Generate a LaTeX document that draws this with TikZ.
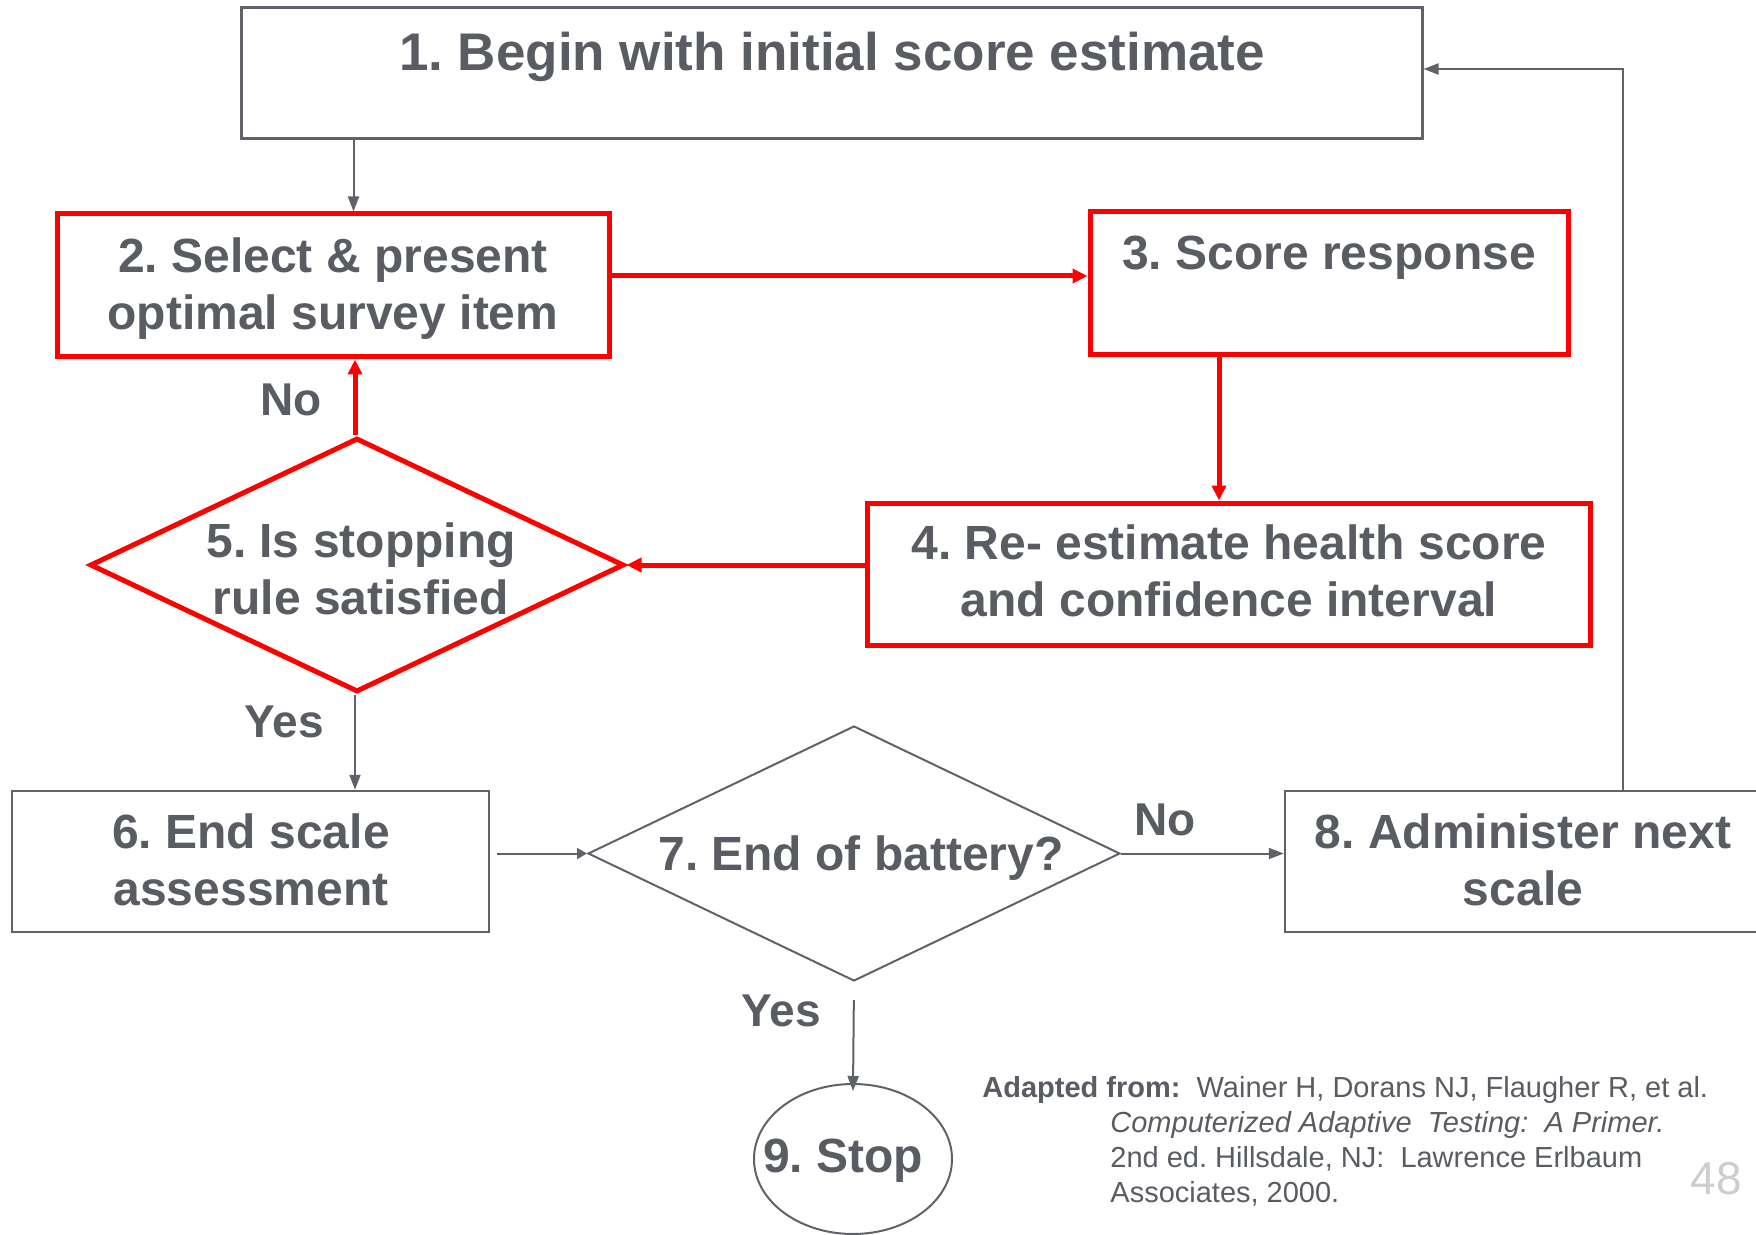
\documentclass[tikz,border=0pt]{standalone}
\usepackage{fontspec}
\setmainfont{Liberation Sans}
\frenchspacing
\usetikzlibrary{arrows.meta,shapes.geometric,calc}
\definecolor{tgray}{RGB}{89,92,99}
\definecolor{lgray}{RGB}{95,98,105}
\definecolor{pred}{RGB}{255,0,0}
\definecolor{pgnum}{RGB}{205,205,205}
\begin{document}
\begin{tikzpicture}[x=0.5pt,y=-0.5pt,
 graybox/.style={draw=lgray, line width=1.25pt, rectangle, inner sep=0pt},
 redbox/.style={draw=pred, line width=2.5pt, rectangle, inner sep=0pt},
 btxt/.style={text=tgray, font=\fontsize{24}{28.5}\selectfont\bfseries, align=center, inner sep=0pt},
 lbl/.style={text=tgray, font=\fontsize{23}{27}\selectfont\bfseries, inner sep=0pt},
 garrow/.style={draw=lgray, line width=1pt, -{Triangle[length=7.5pt,width=5.5pt]}},
 rarrow/.style={draw=pred, line width=2.5pt, -{Triangle[length=7.5pt,width=7pt]}},
 reftxt/.style={text=tgray, font=\fontsize{14.5}{17.5}\selectfont, inner sep=0pt, align=left},
]
\useasboundingbox (0,0) rectangle (1756,1235);

% boxes
\node[graybox, line width=1.5pt, minimum width=590.5pt, minimum height=65.5pt] (b1) at (831.5,73.5) {};
\node[redbox, minimum width=276pt, minimum height=71.5pt] (b2) at (333,285.5) {};
\node[redbox, minimum width=239pt, minimum height=71.5pt] (b3) at (1329,283.5) {};
\node[redbox, minimum width=361.5pt, minimum height=71pt] (b4) at (1228.5,574) {};
\node[draw=pred, line width=2.5pt, diamond, inner sep=0pt, minimum width=267pt, minimum height=127pt] (d5) at (357,565) {};
\node[graybox, minimum width=238.5pt, minimum height=70.5pt] (b6) at (250.5,861.5) {};
\node[draw=lgray, line width=1pt, diamond, inner sep=0pt, minimum width=266pt, minimum height=127.5pt] (d7) at (854,853.5) {};
\node[graybox, minimum width=238pt, minimum height=70.5pt] (b8) at (1523,861.5) {};
\node[draw=lgray, line width=1pt, ellipse, inner sep=0pt, minimum width=99pt, minimum height=75pt] (e9) at (853,1159) {};

% texts
\node[btxt, font=\fontsize{26.5}{31}\selectfont\bfseries] (t1) at (832,56.5) {1. Begin with initial score estimate};
\node[btxt] (t2) at (333,288.5) {2. Select \& present\\optimal survey item};
\node[btxt] (t3) at (1329,257.5) {3. Score response};
\node[btxt] (t4) at (1229,571) {4. Re- estimate health score\\and confidence interval};
\node[btxt] (t5) at (361,569) {5. Is stopping\\rule satisfied};
\node[btxt] (t6) at (251,860) {6. End scale\\assessment};
\node[btxt] (t7) at (861,858.5) {7. End of battery?};
\node[btxt] (t8) at (1523,860) {8. Administer next\\scale};
\node[btxt] (t9) at (843,1160.5) {9. Stop};

% labels
\node[lbl] (l1) at (291,400) {No};
\node[lbl] (l2) at (284,722) {Yes};
\node[lbl] (l3) at (1165,820) {No};
\node[lbl] (l4) at (781,1011) {Yes};

% connector helper coordinates
\coordinate (a1) at ($(b1.south west)+(114,0)$);
\coordinate (a2) at ($(b2.east)+(0,-9.5)$);
\coordinate (a3) at ($(b3.south)+(-110,0)$);
\coordinate (a5) at ($(b2.south)+(22,0)$);
\coordinate (a6) at ($(b6.north)+(104.5,0)$);
\coordinate (c6) at ($(b6.east |- d7.west)+(7,0)$);
\coordinate (a9) at ($(e9.north)+(0,8)$);
\coordinate (a8) at ($(b8.north west)+(339,0)$);
\coordinate (a1e) at ($(b1.east)+(0,-4.5)$);

% connectors
\draw[garrow] (a1) -- (a1 |- b2.north);
\draw[rarrow] (a2) -- (a2 -| b3.west);
\draw[rarrow] (a3) -- (a3 |- b4.north);
\draw[rarrow] (d5.east -| b4.west) -- (d5.east);
\draw[rarrow] (a5 |- d5.north) -- (a5);
\draw[garrow] (a6 |- d5.south) -- (a6);
\draw[garrow, -{Triangle[length=5pt,width=5.5pt]}] (c6) -- (d7.west);
\draw[garrow] (d7.east) -- (d7.east -| b8.west);
\draw[garrow, shorten <=9pt] (d7.south) -- (a9);
\draw[garrow] (a8) |- (a1e);

% reference
\node[reftxt, anchor=west] (r1) at (982,1090) {\textbf{Adapted from:}\ \ Wainer H, Dorans NJ, Flaugher R, et al.};
\node[reftxt, anchor=west] (r2) at (1110,1158.5) {\textit{Computerized Adaptive\ \ Testing:\ \ A Primer.}\\2nd ed. Hillsdale, NJ:\ \ Lawrence Erlbaum\\Associates, 2000.};
\node[text=pgnum, font=\fontsize{23}{27}\selectfont, inner sep=0pt] (pg) at (1716,1179) {48};
\end{tikzpicture}
\end{document}
